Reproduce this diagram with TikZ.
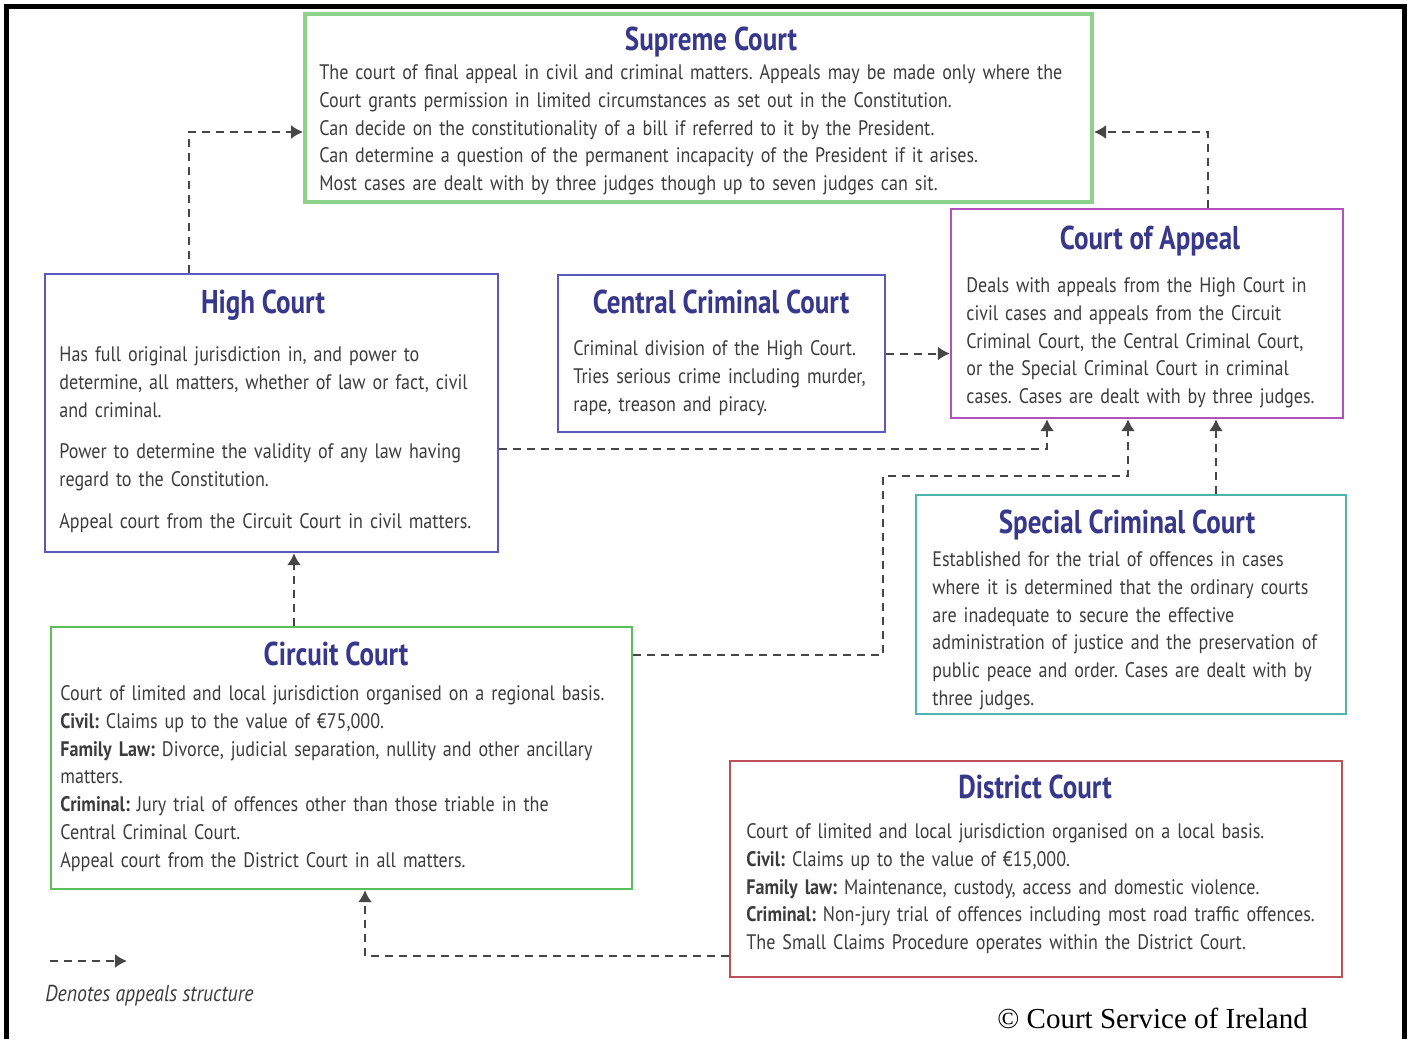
\documentclass[tikz,border=0pt]{standalone}
\usepackage{fontspec}
\setmainfont{PT Sans}[FakeStretch=0.86]
\newfontfamily\titlefam{PT Sans}[FakeStretch=0.82]
\newfontfamily\copyfont{Liberation Serif}
\usepackage{tikz}
\usetikzlibrary{arrows.meta,positioning,calc,fit}
\frenchspacing

\definecolor{titleblue}{RGB}{55,55,140}
\definecolor{bodygray}{RGB}{60,60,60}
\definecolor{arrowgray}{RGB}{70,70,70}
\definecolor{supgreen}{RGB}{140,210,140}
\definecolor{highblue}{RGB}{90,90,190}
\definecolor{appmag}{RGB}{180,80,190}
\definecolor{specteal}{RGB}{80,180,170}
\definecolor{circgreen}{RGB}{90,190,90}
\definecolor{distred}{RGB}{190,80,90}

\newcommand\titlefont{\titlefam\fontsize{16.5}{18}\selectfont\bfseries}
\newcommand\bodyfont{\fontsize{10.5}{13.9}\selectfont}

\tikzset{
  court/.style={draw=#1, line width=1.2pt, inner sep=0pt},
  ctitle/.style={font=\titlefont, text=titleblue, anchor=base},
  ctext/.style={font=\bodyfont, text=bodygray, align=left, text width=400pt, inner sep=0pt, anchor=base west},
  appeal/.style={dash pattern=on 4pt off 3pt, line width=1pt, draw=arrowgray, -{Latex[length=6pt,width=7pt]}}
}

\begin{document}
\begin{tikzpicture}[x=0.5pt, y=-0.5pt]

\useasboundingbox (0,0) rectangle (1408,1039);

% Frame
\draw[line width=2.5pt] (6,1039) -- (6,6.5) -- (1404,6.5) -- (1404,1039);

% Boxes
\node[court=supgreen, line width=2pt, fit={(305,14) (1092,202)}] (sc) {};
\node[court=highblue, fit={(45,274) (498,552)}] (hc) {};
\node[court=highblue, fit={(558,275) (885,432)}] (ccc) {};
\node[court=appmag, fit={(951,209) (1343,418)}] (ca) {};
\node[court=specteal, fit={(916,495) (1346,714)}] (scc) {};
\node[court=circgreen, fit={(51,627) (632,889)}] (cc) {};
\node[court=distred, fit={(730,761) (1342,977)}] (dc) {};

% Titles
\node[ctitle] (sctitle) at (711,50) {Supreme Court};
\node[ctitle] (hctitle) at (263,313) {High Court};
\node[ctitle] (ccctitle) at (721,313) {Central Criminal Court};
\node[ctitle] (catitle) at (1150,249) {Court of Appeal};
\node[ctitle] (scctitle) at (1127,533) {Special Criminal Court};
\node[ctitle] (cctitle) at (336,665) {Circuit Court};
\node[ctitle] (dctitle) at (1035,798) {District Court};

% Texts
\node[ctext] (sctext) at (319,79.5) {The court of final appeal in civil and criminal matters. Appeals may be made only where the\\
Court grants permission in limited circumstances as set out in the Constitution.\\
Can decide on the constitutionality of a bill if referred to it by the President.\\
Can determine a question of the permanent incapacity of the President if it arises.\\
Most cases are dealt with by three judges though up to seven judges can sit.};

\node[ctext] (hctext) at (59,361.5) {Has full original jurisdiction in, and power to\\
determine, all matters, whether of law or fact, civil\\
and criminal.\\[7pt]
Power to determine the validity of any law having\\
regard to the Constitution.\\[7pt]
Appeal court from the Circuit Court in civil matters.};

\node[ctext] (ccctext) at (573,355.5) {Criminal division of the High Court.\\
Tries serious crime including murder,\\
rape, treason and piracy.};

\node[ctext] (catext) at (966,292.5) {Deals with appeals from the High Court in\\
civil cases and appeals from the Circuit\\
Criminal Court, the Central Criminal Court,\\
or the Special Criminal Court in criminal\\
cases. Cases are dealt with by three judges.};

\node[ctext] (scctext) at (932,566.5) {Established for the trial of offences in cases\\
where it is determined that the ordinary courts\\
are inadequate to secure the effective\\
administration of justice and the preservation of\\
public peace and order. Cases are dealt with by\\
three judges.};

\node[ctext] (cctext) at (60,700.5) {Court of limited and local jurisdiction organised on a regional basis.\\
\textbf{Civil:} Claims up to the value of €75,000.\\
\textbf{Family Law:} Divorce, judicial separation, nullity and other ancillary\\
matters.\\
\textbf{Criminal:} Jury trial of offences other than those triable in the\\
Central Criminal Court.\\
Appeal court from the District Court in all matters.};

\node[ctext] (dctext) at (746,838.5) {Court of limited and local jurisdiction organised on a local basis.\\
\textbf{Civil:} Claims up to the value of €15,000.\\
\textbf{Family law:} Maintenance, custody, access and domestic violence.\\
\textbf{Criminal:} Non-jury trial of offences including most road traffic offences.\\
The Small Claims Procedure operates within the District Court.};

% Appeal routes
\coordinate (hcup) at (189,132);
\coordinate (caup) at (1208,132);
\coordinate (hcca) at (1047,449);
\coordinate (ccA) at (883,655);
\coordinate (ccB) at (1128,476);
\coordinate (sccx) at (1216,0);
\coordinate (cchc) at (294,0);
\coordinate (dcA) at (365,956);

\draw[appeal] (hc.north -| hcup) |- (hcup -| sc.west);
\draw[appeal] (ca.north -| caup) |- (caup -| sc.east);
\draw[appeal] (ccc.east) -- (ccc.east -| ca.west);
\draw[appeal] (hc.east |- hcca) -| (ca.south -| hcca);
\draw[appeal] (cc.east |- ccA) -- (ccA) |- (ccB) -- (ca.south -| ccB);
\draw[appeal] (scc.north -| sccx) -- (ca.south -| sccx);
\draw[appeal] (cc.north -| cchc) -- (hc.south -| cchc);
\draw[appeal] (dc.west |- dcA) -| (cc.south -| dcA);

% Legend
\coordinate (lga) at (50,961);
\coordinate (lgb) at (127,961);
\draw[appeal] (lga) -- (lgb);
\node[font=\fontsize{11.5}{13}\selectfont\itshape, text=bodygray, anchor=base west, inner sep=0pt] (legend) at (45,1001) {Denotes appeals structure};

% Copyright
\node[font=\copyfont\fontsize{14.5}{16}\selectfont, anchor=base west, inner sep=0pt] (copy) at (997,1028) {© Court Service of Ireland};

\end{tikzpicture}
\end{document}
